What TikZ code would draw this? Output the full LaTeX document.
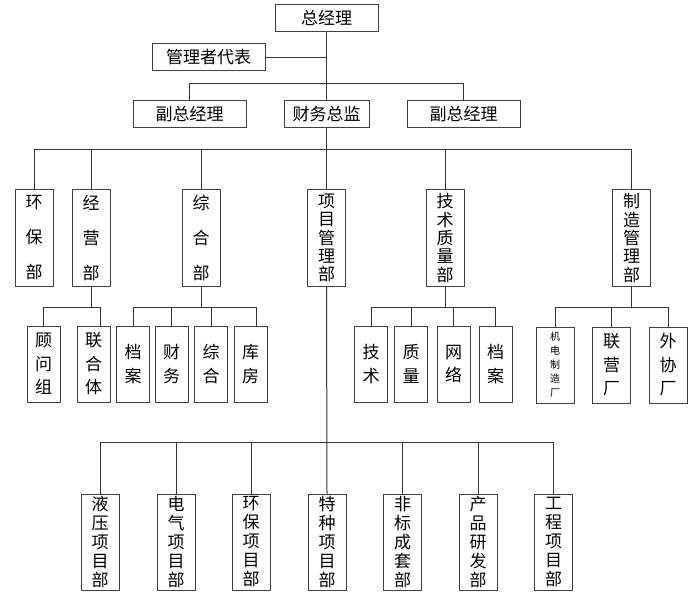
\documentclass[tikz,border=0pt]{standalone}
\usepackage{fontspec}
\newfontfamily\cjk{Noto Sans CJK SC}
\begin{document}
\begin{tikzpicture}[x=1bp,y=-1bp,
  bx/.style={draw=black!75,line width=1bp,inner sep=0pt,font=\cjk\fontsize{17bp}{20bp}\selectfont},
  hb/.style={bx,minimum height=27bp},
  vb/.style={bx,minimum width=38bp,minimum height=96bp,align=center},
  sb/.style={bx,minimum width=33bp,minimum height=76bp,align=center,font=\cjk\fontsize{17bp}{23.5bp}\selectfont},
  mb/.style={bx,minimum width=38bp,minimum height=76bp,align=center,font=\cjk\fontsize{17bp}{23.5bp}\selectfont},
  loose/.style={font=\cjk\fontsize{17bp}{35bp}\selectfont},
  tight/.style={font=\cjk\fontsize{17bp}{18.3bp}\selectfont},
  low/.style={font=\cjk\fontsize{17bp}{19bp}\selectfont},
  smallv/.style={font=\cjk\fontsize{10bp}{14bp}\selectfont},
  ln/.style={draw=black!80,line width=1bp}]
\useasboundingbox (0,0) rectangle (700,609);
% top
\node[hb,minimum width=103bp] (gm) at (326.5,18) {总经理};
\node[hb,minimum width=113bp] (rep) at (208.5,57.5) {管理者代表};
\node[hb,minimum width=113bp] (vpa) at (189.5,114.5) {副总经理};
\node[hb,minimum width=85bp] (cfo) at (326.5,114.5) {财务总监};
\node[hb,minimum width=113bp] (vpb) at (463.5,114.5) {副总经理};
% level 2
\node[vb,loose] (hbb) at (34,238) {环\\保\\部};
\node[vb,loose] (jy) at (91,238) {经\\营\\部};
\node[vb,loose] (zh) at (201,238) {综\\合\\部};
\node[vb,tight] (xm) at (326.5,238) {项\\目\\管\\理\\部};
\node[vb,tight] (js) at (445,238) {技\\术\\质\\量\\部};
\node[vb,tight] (zz) at (631.5,238) {制\\造\\管\\理\\部};
% level 3
\node[sb] (gw) at (43.5,364) {顾\\问\\组};
\node[sb] (lh) at (93.5,364) {联\\合\\体};
\node[sb] (daa) at (133,364) {档\\案};
\node[sb] (cw) at (171.5,364) {财\\务};
\node[sb] (zhb) at (211,364) {综\\合};
\node[sb] (kf) at (250.5,364) {库\\房};
\node[sb] (jsb) at (371,364) {技\\术};
\node[sb] (zl) at (411,364) {质\\量};
\node[sb] (wl) at (453.5,364) {网\\络};
\node[sb] (dab) at (495.5,364) {档\\案};
\node[mb,smallv] (jd) at (555,365) {机\\电\\制\\造\\厂};
\node[mb] (ly) at (611.5,365) {联\\营\\厂};
\node[mb] (wx) at (668,365) {外\\协\\厂};
% bottom
\node[vb,low] (yy) at (100,542) {液\\压\\项\\目\\部};
\node[vb,low] (dq) at (176,542) {电\\气\\项\\目\\部};
\node[vb,low] (hbc) at (251,542) {环\\保\\项\\目\\部};
\node[vb,low] (tz) at (327,542) {特\\种\\项\\目\\部};
\node[vb,low] (fb) at (402.5,542) {非\\标\\成\\套\\部};
\node[vb,low] (cp) at (478,542) {产\\品\\研\\发\\部};
\node[vb,low] (gc) at (553.5,542) {工\\程\\项\\目\\部};
% buses
\coordinate (bus1) at (0,84);
\coordinate (bus2) at (0,150);
\coordinate (bus3) at (0,307);
\coordinate (bus4) at (0,442);
\coordinate (lhd) at ([xshift=6.5bp]lh.north);
\coordinate (kfd) at ([xshift=5.5bp]kf.north);
% connectors
\draw[ln] (gm.south) -- (cfo.north);
\draw[ln] (rep.east) -- (rep.east -| gm.south);
\draw[ln] (vpa.north) -- (vpa.north |- bus1) -- (vpb.north |- bus1) -- (vpb.north);
\draw[ln] (cfo.south) -- (xm.north);
\draw[ln] (hbb.north) -- (hbb.north |- bus2) -- (zz.north |- bus2) -- (zz.north);
\foreach \n in {jy,zh,js} \draw[ln] (\n.north) -- (\n.north |- bus2);
% sub groups
\draw[ln] (jy.south) -- (jy.south |- bus3);
\draw[ln] (gw.north) -- (gw.north |- bus3) -- (lhd |- bus3) -- (lhd);
\draw[ln] (zh.south) -- (zh.south |- bus3);
\draw[ln] (daa.north) -- (daa.north |- bus3) -- (kfd |- bus3) -- (kfd);
\foreach \n in {cw,zhb} \draw[ln] (\n.north) -- (\n.north |- bus3);
\draw[ln] (js.south) -- (js.south |- bus3);
\draw[ln] (jsb.north) -- (jsb.north |- bus3) -- (dab.north |- bus3) -- (dab.north);
\foreach \n in {zl,wl} \draw[ln] (\n.north) -- (\n.north |- bus3);
\draw[ln] (zz.south) -- (zz.south |- bus3);
\draw[ln] (jd.north) -- (jd.north |- bus3) -- (wx.north |- bus3) -- (wx.north);
\draw[ln] (ly.north) -- (ly.north |- bus3);
% bottom
\draw[ln] (xm.south) -- (tz.north);
\draw[ln] (yy.north) -- (yy.north |- bus4) -- (gc.north |- bus4) -- (gc.north);
\foreach \n in {dq,hbc,fb,cp} \draw[ln] (\n.north) -- (\n.north |- bus4);
\end{tikzpicture}
\end{document}
